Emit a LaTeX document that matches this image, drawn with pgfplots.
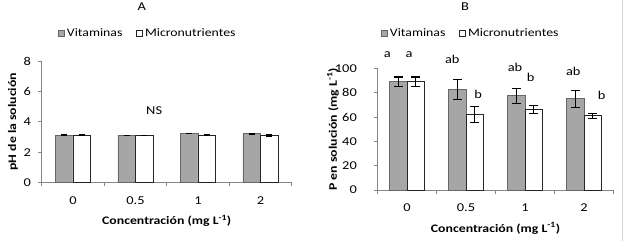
\documentclass[border=0pt]{standalone}
\usepackage{fontspec}
\setmainfont{Carlito}[FakeStretch=1.2]
\usepackage{pgfplots}
\usepackage{pgfplotstable}
\pgfplotsset{compat=1.18}
\definecolor{barg}{HTML}{A6A6A6}
\definecolor{axg}{HTML}{868686}

\pgfplotstableread{
x v ev m em
0 3.12 0.03 3.12 0.03
1 3.10 0.00 3.10 0.00
2 3.21 0.00 3.12 0.05
3 3.21 0.03 3.12 0.06
}\dataA

\pgfplotstableread{
x v ev m em
0 89.0 4.0 89.0 4.0
1 83.0 8.3 62.0 6.5
2 77.5 6.0 66.5 3.3
3 75.0 7.0 61.0 2.3
}\dataB

\pgfplotsset{
  mybars/.style={
    ybar, scale only axis, clip=false,
    axis x line*=bottom, axis y line*=left,
    axis line style={draw=axg, line width=0.8pt, -},
    xmin=-0.5, xmax=3.5, ymin=0,
    xtick={-0.5,0.5,1.5,2.5,3.5}, xticklabels={},
    extra x ticks={0,1,2,3}, extra x tick labels={0,0.5,1,2},
    extra x tick style={major tick length=0pt},
    xticklabel style={anchor=center, yshift=-18pt},
    tick align=outside, major tick length=4pt,
    tick style={draw=axg, line width=0.8pt},
    /pgf/number format/assume math mode=true,
    tick label style={font=\fontsize{12}{14}\selectfont},
    label style={font=\bfseries\fontsize{11.5}{13}\selectfont},
    xlabel style={at={(axis description cs:0.5,0)}, anchor=center, yshift=-38.5pt},
    bar width=17.5pt,
    legend columns=-1,
    legend style={draw=none, fill=none, font=\fontsize{11.5}{13}\selectfont,
      /tikz/every even column/.append style={column sep=12pt}},
    legend image code/.code={\draw[#1, line width=0.6pt] (0pt,-3pt) rectangle (6pt,3pt);},
  },
  gbar/.style={fill=barg, draw=black!60, line width=0.8pt, bar shift=-8.75pt},
  wbar/.style={fill=white, draw=black!85, line width=0.8pt, bar shift=8.75pt},
  errs/.style={error bars/.cd, y dir=both, y explicit,
    error bar style={black, line width=1.1pt},
    error mark options={black, rotate=90, mark size=#1, line width=1.1pt}},
}

\begin{document}
\fontsize{12}{14}\selectfont
\begin{tikzpicture}
\useasboundingbox (0,0) rectangle (624pt,241pt);
\draw[black!18, line width=0.8pt] (622pt,0pt) -- (622pt,241pt);
\node at (141.7pt,234pt) {A};
\node at (465pt,234pt) {B};

\begin{axis}[mybars,
  at={(41.7pt,58.5pt)}, anchor=south west,
  width=250pt, height=121.5pt,
  ymax=8, ytick={0,2,4,6,8},
  yticklabel style={anchor=east, inner sep=0pt, xshift=-6.5pt},
  ylabel={pH de la solución},
  ylabel style={at={(axis description cs:0,0.5)}, anchor=center, yshift=28.7pt},
  xlabel={Concentración (mg L\textsuperscript{-1})},
  legend style={at={(0.425,1.23)}, anchor=center},
]
\addplot[gbar, errs=3pt] table[x=x, y=v, y error=ev] {\dataA};
\addplot[wbar, errs=3pt] table[x=x, y=m, y error=em] {\dataA};
\legend{Vitaminas, Micronutrientes}
\node at (axis cs:1.3,4.71) {NS};
\end{axis}

\begin{axis}[mybars,
  at={(377.5pt,51pt)}, anchor=south west,
  width=236pt, height=121.5pt,
  ymax=100, ytick={0,20,40,60,80,100},
  yticklabel style={anchor=east, inner sep=0pt, xshift=-16.5pt},
  ylabel={P en solución (mg L\textsuperscript{-1})},
  ylabel style={at={(axis description cs:0,0.5)}, anchor=center, yshift=44.5pt},
  xlabel={Concentración (mg L\textsuperscript{-1})},
  legend style={at={(0.396,1.292)}, anchor=center},
]
\addplot[gbar, errs=4.5pt] table[x=x, y=v, y error=ev] {\dataB};
\addplot[wbar, errs=4.5pt] table[x=x, y=m, y error=em] {\dataB};
\legend{Vitaminas, Micronutrientes}
\node at (axis cs:-0.334,111.1) {a};
\node at (axis cs:0.034,111.1) {a};
\node at (axis cs:0.768,107.8) {ab};
\node at (axis cs:1.208,79.0) {b};
\node at (axis cs:1.831,101.0) {ab};
\node at (axis cs:2.097,92.4) {b};
\node at (axis cs:2.819,97.9) {ab};
\node at (axis cs:3.300,78.2) {b};
\end{axis}
\end{tikzpicture}
\end{document}
